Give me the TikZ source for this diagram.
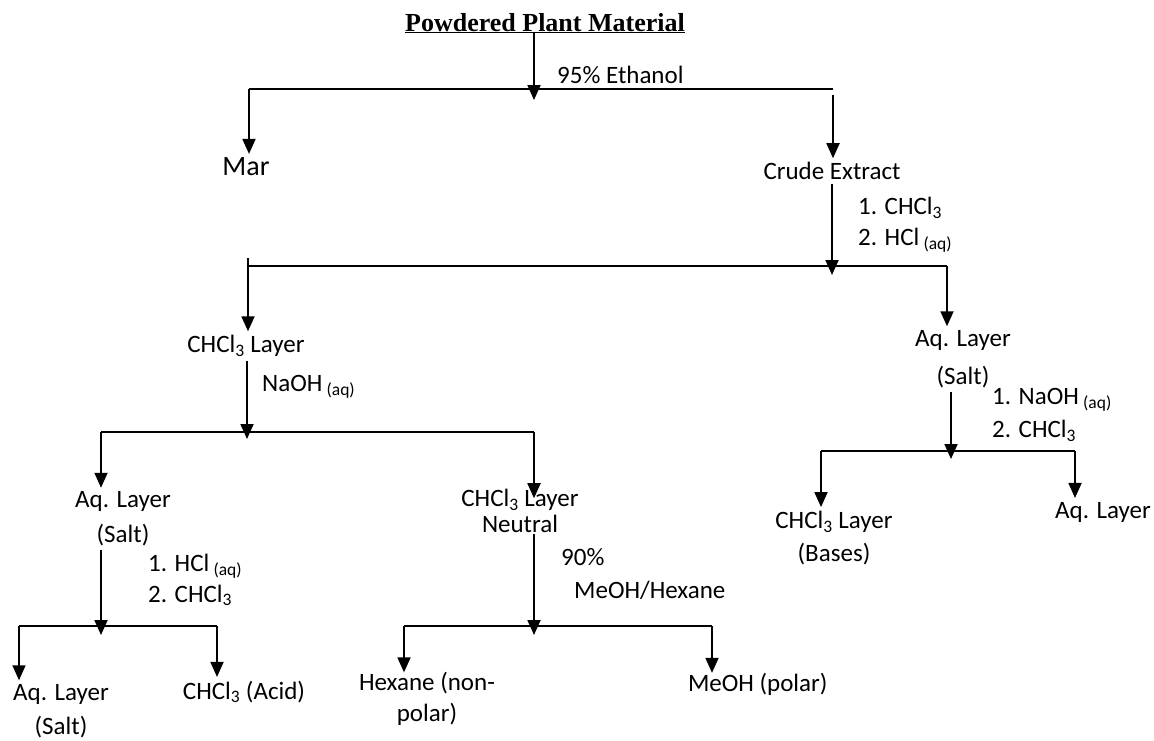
\documentclass[tikz,border=0pt]{standalone}
\usepackage{fontspec}
\setmainfont{Carlito}
\newfontfamily\titlefont{Liberation Serif}
\usetikzlibrary{arrows.meta}
\newcommand{\chcl}{CHCl\textsubscript{3}}
\newcommand{\aqs}{\,\textsubscript{(aq)}}
\tikzset{item/.style={font=\fontsize{25}{31}\selectfont, inner sep=0pt, outer sep=4pt, align=center}}
\tikzset{cond/.style={font=\fontsize{25}{31}\selectfont, inner sep=0pt, anchor=west, align=left}}
\tikzset{flow/.style={-{Triangle[width=13pt,length=15pt]}, line width=1.8pt}}
\tikzset{bar/.style={line width=1.8pt}}

\begin{document}
\begin{tikzpicture}[x=1pt,y=-1pt]
  \useasboundingbox (0,0) rectangle (1154,740);
  % products and layers
  \node[font=\titlefont\bfseries\fontsize{26}{30}\selectfont, inner sep=0pt, anchor=base] (plant) at (545,31) {\underline{Powdered Plant Material}};
  \node[item, font=\fontsize{28}{32}\selectfont] (mar) at (246,167) {Mar};
  \node[item] (crude) at (832,171) {Crude Extract};
  \node[item] (chcl) at (246,346) {\chcl{} Layer};
  \node[item] (aqr) at (963,359) {Aq. Layer\\[7pt](Salt)};
  \node[item] (bases) at (834,538) {\chcl{} Layer\\[2pt](Bases)};
  \node[item] (aqthree) at (1103,512) {Aq. Layer};
  \node[item] (aqone) at (123,519) {Aq. Layer\\[4pt](Salt)};
  \node[item, outer sep=1pt] (neutral) at (520,511) {\chcl{} Layer\\[-5pt]Neutral};
  \node[item] (aqtwo) at (61,711) {Aq. Layer\\[3pt](Salt)};
  \node[item] (acid) at (244,692) {\chcl{} (Acid)};
  \node[item, outer sep=0pt] (hex) at (427,699) {Hexane (non-\\polar)};
  \node[item, outer sep=0pt, anchor=west] (meoh) at (688,684) {MeOH (polar)};
  % reagents
  \node[cond] (eth) at (557,75) {95\% Ethanol};
  \node[cond] (cone) at (858,225) {1. \chcl\\2. HCl\aqs};
  \node[cond] (naoh) at (262,387) {NaOH\aqs};
  \node[cond] (ctwo) at (992,415) {1. NaOH\aqs\\[2pt]2. \chcl};
  \node[cond] (cthree) at (148,580) {1. HCl\aqs\\2. \chcl};
  \node[cond] (cfour) at (561,574) {90\%\\[2pt]\hspace*{13pt}MeOH/Hexane};
  % splitting bars
  \foreach \n/\a/\b/\y in {
    b1/249/833/89,
    b2/248/947/266,
    b3/101/534/432,
    b4/821/1075/451,
    b5/19/217/626,
    b6/404/712/626%
  } {
    \coordinate (\n w) at (\a,\y);
    \coordinate (\n e) at (\b,\y);
    \draw[bar] (\n w) -- (\n e);
  }
  \coordinate (f1) at (534,100);
  \coordinate (f2) at (832,275);
  \coordinate (f3) at (247,439);
  \coordinate (f4) at (951,459);
  \coordinate (f5) at (101,635);
  \coordinate (f6) at (534,635);
  % feeds into bars
  \draw[flow] (plant.south -| f1) -- (f1);
  \draw[flow] (crude.south -| f2) -- (f2);
  \draw[flow] (chcl.south -| f3) -- (f3);
  \draw[flow] (aqr.south -| f4) -- (f4);
  \draw[flow] (aqone.south -| f5) -- (f5);
  \draw[flow] (neutral.south -| f6) -- (f6);
  % branches
  \draw[flow] (b1w) -- (b1w |- mar.north);
  \draw[flow] ([yshift=-6pt]b1e) -- (b1e |- crude.north);
  \draw[flow] ([yshift=8pt]b2w) -- (b2w |- chcl.north);
  \draw[flow] (b2e) -- (b2e |- aqr.north);
  \draw[flow] (b3w) -- (b3w |- aqone.north);
  \draw[flow] (b3e) -- ([yshift=-10pt]b3e |- neutral.north);
  \draw[flow] (b4w) -- (b4w |- bases.north);
  \draw[flow] (b4e) -- (b4e |- aqthree.north);
  \draw[flow] (b5w) -- (b5w |- aqtwo.north);
  \draw[flow] (b5e) -- (b5e |- acid.north);
  \draw[flow] (b6w) -- (b6w |- hex.north);
  \draw[flow] (b6e) -- (b6e |- meoh.north);
\end{tikzpicture}
\end{document}
